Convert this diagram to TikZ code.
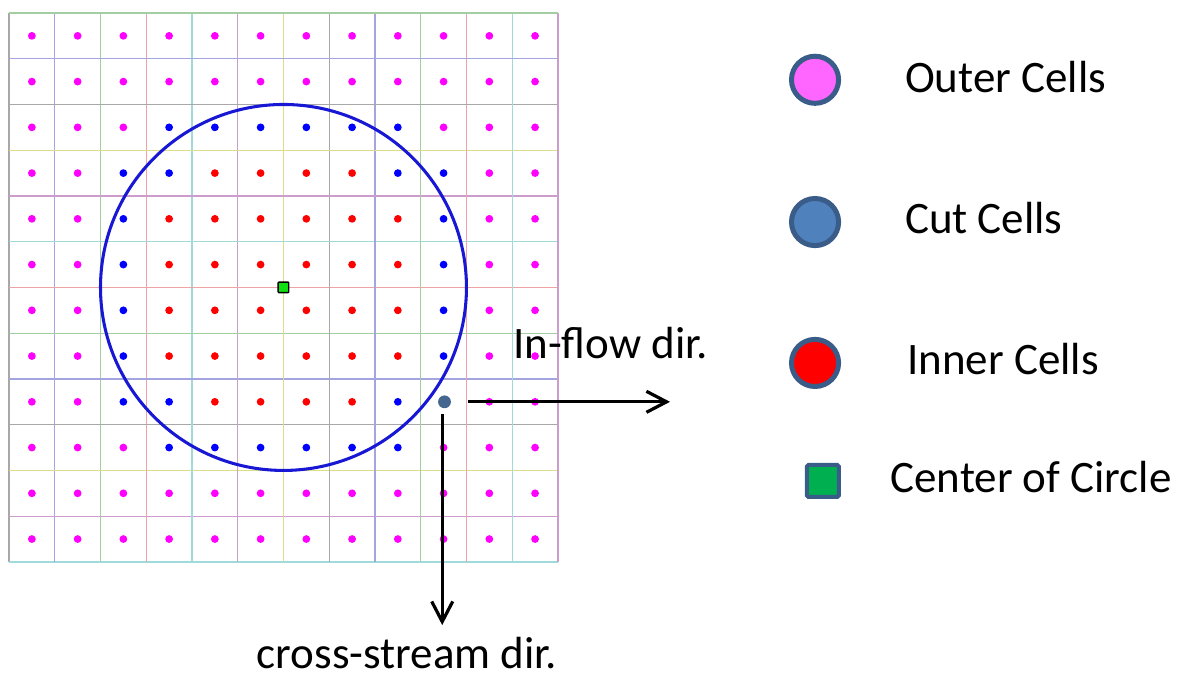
\documentclass[tikz,border=0pt]{standalone}
\usepackage{fontspec}
\setmainfont{Carlito}
\usetikzlibrary{arrows.meta}

% grid line colours, cycled every 7 lines
\definecolor{gc0}{HTML}{A8A8A8}
\definecolor{gc1}{HTML}{A4A4E0}
\definecolor{gc2}{HTML}{A2CEA2}
\definecolor{gc3}{HTML}{EEA4A4}
\definecolor{gc4}{HTML}{A0DADA}
\definecolor{gc5}{HTML}{CC9CCC}
\definecolor{gc6}{HTML}{DCDC8A}

\definecolor{dotmagenta}{HTML}{FF00FF}
\definecolor{dotblue}{HTML}{0000FF}
\definecolor{dotred}{HTML}{FF0000}
\definecolor{ringblue}{HTML}{1818D4}
\definecolor{probecol}{HTML}{44668F}
\definecolor{legendedge}{HTML}{3A5C88}
\definecolor{outerfill}{HTML}{FF66FF}
\definecolor{cutfill}{HTML}{4F81BD}
\definecolor{innerfill}{HTML}{FF0000}
\definecolor{centerfill}{HTML}{00B050}
\definecolor{centerdot}{HTML}{10E010}

\tikzset{
	gridline/.style={line width=0.8pt},
	outerdot/.style={fill=dotmagenta},
	cutdot/.style={fill=dotblue},
	innerdot/.style={fill=dotred},
	legendmark/.style={circle, draw=legendedge, line width=3.1pt, minimum size=1.03cm, inner sep=0pt},
	legendtext/.style={anchor=base west, inner sep=0pt, font=\fontsize{28}{32}\selectfont},
	dirarrow/.style={line width=2pt, -{Straight Barb[length=4.4mm,width=4.6mm]}},
}

\begin{document}
\begin{tikzpicture}
	\useasboundingbox (-0.197,-2.557) rectangle (25.97,12.284);

	%%%%% GRID %%%%%
	\foreach \i in {0,...,12} {
		\pgfmathtruncatemacro\cv{mod(\i,7)}
		\pgfmathtruncatemacro\ch{mod(\i+4,7)}
		\draw[gridline, color=gc\cv] (\i,0) -- (\i,12);
		\draw[gridline, color=gc\ch] (0,\i) -- (12,\i);
	}

	%%%%% CELL CENTRES %%%%%
	% outer: cell lies outside r=4, inner: cell lies inside, cut: in between
	\foreach \i in {0,...,11} {
		\foreach \j in {0,...,11} {
			\pgfmathtruncatemacro\near{max(0,\i-6,5-\i)^2+max(0,\j-6,5-\j)^2}
			\pgfmathtruncatemacro\far{max(abs(\i-6),abs(\i-5))^2+max(abs(\j-6),abs(\j-5))^2}
			\ifnum\near>15 \def\kind{outerdot}\else
				\ifnum\far<17 \def\kind{innerdot}\else\def\kind{cutdot}\fi
			\fi
			\fill[\kind] (\i+0.5,\j+0.5) circle (0.085);
		}
	}

	%%%%% CIRCLE %%%%%
	\draw[line width=1.9pt, color=ringblue] (6,6) circle (4);
	\node[draw=black, fill=centerdot, line width=0.9pt, minimum size=0.23cm, inner sep=0pt, rounded corners=0.5pt] (ctr) at (6,6) {};

	%%%%% DIRECTIONS %%%%%
	\node[circle, fill=probecol, minimum size=0.28cm, inner sep=0pt] (probe) at (9.52,3.5) {};
	\coordinate (flowtip) at (14.45,3.5);
	\coordinate (crosstip) at (9.47,-1.38);
	\draw[dirarrow, shorten <=0.37cm] (probe) -- (flowtip);
	\draw[dirarrow, shorten <=0.12cm] (probe.south -| crosstip) -- (crosstip);
	\node[legendtext] (flowlbl) at (11.02,4.44) {In-flow dir.};
	\node[legendtext, anchor=base] (crosslbl) at (8.70,-2.33) {cross-stream dir.};

	%%%%% LEGEND %%%%%
	\node[legendmark, fill=outerfill] (outermark) at (17.62,10.54) {};
	\node[legendmark, fill=cutfill] (cutmark) at (17.62,7.43) {};
	\node[legendmark, fill=innerfill] (innermark) at (17.62,4.35) {};
	\node[draw=legendedge, fill=centerfill, line width=2.5pt, minimum size=0.7cm, inner sep=0pt, rounded corners=1pt] (centermark) at (17.79,1.77) {};

	\node[legendtext] (outerlbl) at (19.58,10.27) {Outer Cells};
	\node[legendtext] (cutlbl) at (19.58,7.19) {Cut Cells};
	\node[legendtext] (innerlbl) at (19.63,4.09) {Inner Cells};
	\node[legendtext] (centerlbl) at (19.26,1.51) {Center of Circle};
\end{tikzpicture}
\end{document}
